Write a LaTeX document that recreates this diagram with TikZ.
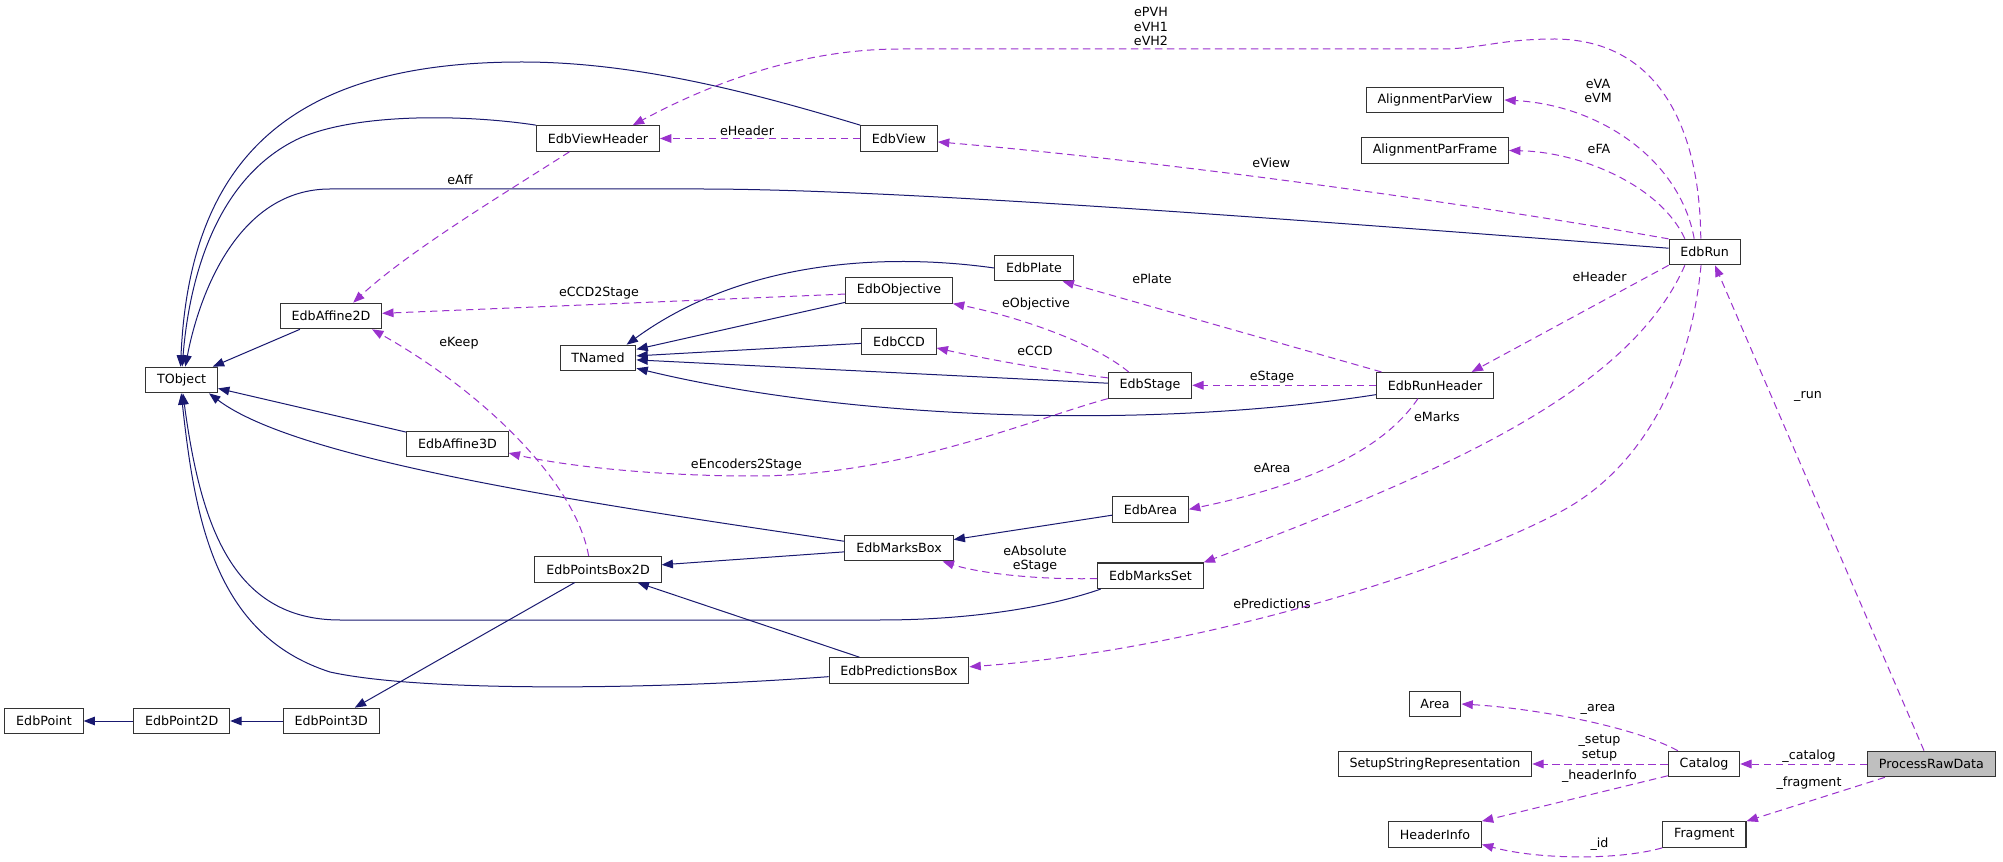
\documentclass[tikz,border=0pt]{standalone}
\usepackage{fontspec}
\setmainfont{DejaVu Sans}
\usetikzlibrary{arrows.meta}

\definecolor{inhblue}{RGB}{25,25,112}
\definecolor{usepurple}{RGB}{154,50,205}

\tikzset{>={Triangle[length=8.5pt, width=6.5pt]},
             cls/.style={draw=black!80, fill=white, line width=0.8pt, minimum height=19.2pt, inner xsep=8.5pt, inner ysep=0pt, font=\fontsize{9.5}{11.2}\selectfont},
             hl/.style={fill=black!25},
             inh/.style={->, draw=inhblue, line width=0.75pt},
             uses/.style={->, draw=usepurple, dash pattern=on 5.5pt off 3.5pt, line width=0.75pt},
             lbl/.style={font=\fontsize{9.5}{11.2}\selectfont, align=center, inner sep=0pt}}

\begin{document}
\begin{tikzpicture}[x=0.75pt, y=-0.75pt]
        \path[use as bounding box, fill=white] (0,0) rectangle (2003,862);

        \node[cls]     at (  44.0, 721.0) (EdbPoint)                  {EdbPoint};
        \node[cls]     at ( 181.7, 721.0) (EdbPoint2D)                {EdbPoint2D};
        \node[cls]     at ( 331.3, 721.0) (EdbPoint3D)                {EdbPoint3D};
        \node[cls]     at ( 181.7, 380.0) (TObject)                   {TObject};
        \node[cls]     at ( 331.0, 316.0) (EdbAffine2D)               {EdbAffine2D};
        \node[cls]     at ( 457.5, 444.0) (EdbAffine3D)               {EdbAffine3D};
        \node[cls]     at ( 598.0, 138.5) (EdbViewHeader)             {EdbViewHeader};
        \node[cls]     at ( 598.0, 358.0) (TNamed)                    {TNamed};
        \node[cls]     at ( 598.0, 569.3) (EdbPointsBox2D)            {EdbPointsBox2D};
        \node[cls]     at ( 899.0, 138.5) (EdbView)                   {EdbView};
        \node[cls]     at ( 899.0, 290.3) (EdbObjective)              {EdbObjective};
        \node[cls]     at ( 899.0, 341.3) (EdbCCD)                    {EdbCCD};
        \node[cls]     at ( 899.0, 548.0) (EdbMarksBox)               {EdbMarksBox};
        \node[cls]     at ( 899.0, 670.5) (EdbPredictionsBox)         {EdbPredictionsBox};
        \node[cls]     at (1034.0, 268.0) (EdbPlate)                  {EdbPlate};
        \node[cls]     at (1150.0, 385.3) (EdbStage)                  {EdbStage};
        \node[cls]     at (1150.4, 509.3) (EdbArea)                   {EdbArea};
        \node[cls]     at (1150.4, 575.8) (EdbMarksSet)               {EdbMarksSet};
        \node[cls]     at (1435.0, 100.0) (AlignmentParView)          {AlignmentParView};
        \node[cls]     at (1435.0, 150.5) (AlignmentParFrame)         {AlignmentParFrame};
        \node[cls]     at (1435.0, 385.3) (EdbRunHeader)              {EdbRunHeader};
        \node[cls]     at (1435.0, 704.0) (Area)                      {Area};
        \node[cls]     at (1435.0, 764.0) (SetupStringRepresentation) {SetupStringRepresentation};
        \node[cls]     at (1435.0, 834.5) (HeaderInfo)                {HeaderInfo};
        \node[cls]     at (1704.6, 252.0) (EdbRun)                    {EdbRun};
        \node[cls]     at (1704.0, 764.0) (Catalog)                   {Catalog};
        \node[cls]     at (1704.4, 834.5) (Fragment)                  {Fragment};
        \node[cls, hl] at (1931.4, 764.0) (ProcessRawData)            {ProcessRawData};

        \node[lbl] at ( 460.0, 180.0) (laff)     {eAff};
        \node[lbl] at ( 459.0, 343.0) (lkeep)    {eKeep};
        \node[lbl] at ( 599.0, 293.0) (lccdst)   {eCCD2Stage};
        \node[lbl] at ( 747.0, 131.0) (lvhdr)    {eHeader};
        \node[lbl] at ( 746.4, 465.0) (lenc)     {eEncoders2Stage};
        \node[lbl] at (1151.0,  26.5) (lpvh)     {ePVH\\eVH1\\eVH2};
        \node[lbl] at (1036.0, 304.0) (lobj)     {eObjective};
        \node[lbl] at (1035.0, 351.0) (lccd)     {eCCD};
        \node[lbl] at (1035.0, 559.0) (labs)     {eAbsolute\\eStage};
        \node[lbl] at (1152.0, 279.0) (lplate)   {ePlate};
        \node[lbl] at (1271.4, 163.0) (lview)    {eView};
        \node[lbl] at (1272.0, 377.0) (lstage)   {eStage};
        \node[lbl] at (1272.0, 468.0) (larea)    {eArea};
        \node[lbl] at (1272.0, 604.0) (lpred)    {ePredictions};
        \node[lbl] at (1437.0, 417.0) (lmarks)   {eMarks};
        \node[lbl] at (1598.0,  91.0) (lva)      {eVA\\eVM};
        \node[lbl] at (1599.0, 149.0) (lfa)      {eFA};
        \node[lbl] at (1599.5, 277.0) (lrhdr)    {eHeader};
        \node[lbl] at (1598.0, 709.0) (lcarea)   {\_area};
        \node[lbl] at (1599.5, 748.0) (lsetup)   {\_setup\\setup};
        \node[lbl] at (1599.5, 776.0) (lhinfo)   {\_headerInfo};
        \node[lbl] at (1599.5, 844.0) (lid)      {\_id};
        \node[lbl] at (1808.0, 396.0) (lrun)     {\_run};
        \node[lbl] at (1809.0, 756.0) (lcatalog) {\_catalog};
        \node[lbl] at (1809.0, 783.0) (lfrag)    {\_fragment};

        \draw[inh] (EdbPoint2D) -- (EdbPoint);
        \draw[inh] (EdbPoint3D) -- (EdbPoint2D);
        \draw[inh] (EdbPointsBox2D) -- (EdbPoint3D);
        \draw[inh] (EdbAffine2D) -- (TObject);
        \draw[inh] (EdbAffine3D) -- (TObject);
        \draw[inh] (EdbViewHeader.north west)
            .. controls (470,115) and (360,112) .. (300,138)
            .. controls (220,175) and (190,270) .. (TObject.88);
        \draw[inh] (EdbView.161)
            .. controls (760,95) and (640,62) .. (522,62)
            .. controls (300,62) and (190,150) .. (TObject.95);
        \draw[inh] (EdbRun.174)
            .. controls (1300,220) and (900,189) .. (700,189)
            -- (330,189)
            .. controls (240,189) and (200,290) .. (TObject.75);
        \draw[inh] (EdbMarksBox.173) .. controls (600,505) and (300,462) .. (TObject.-26);
        \draw[inh] (EdbMarksSet.195)
            .. controls (1040,610) and (960,620) .. (880,620)
            -- (340,620)
            .. controls (230,620) and (200,520) .. (TObject.-85);
        \draw[inh] (EdbPredictionsBox.185)
            .. controls (650,690) and (420,692) .. (330,672)
            .. controls (215,635) and (195,520) .. (TObject.-92);
        \draw[inh] (EdbPlate.west) .. controls (880,252) and (740,262) .. (TNamed.25);
        \draw[inh] (EdbObjective) -- (TNamed);
        \draw[inh] (EdbCCD) -- (TNamed);
        \draw[inh] (EdbStage) -- (TNamed);
        \draw[inh] (EdbRunHeader.189) .. controls (1150,430) and (850,420) .. (TNamed.-15);
        \draw[inh] (EdbArea) -- (EdbMarksBox);
        \draw[inh] (EdbMarksBox) -- (EdbPointsBox2D);
        \draw[inh] (EdbPredictionsBox) -- (EdbPointsBox2D);

        \draw[uses] (EdbRun.106)
            .. controls (1700,130) and (1660,40) .. (1555,39)
            .. controls (1500,39) and (1480,49) .. (1440,49)
            -- (900,49)
            .. controls (780,49) and (680,100) .. (EdbViewHeader.21);
        \draw[uses] (EdbView) -- (EdbViewHeader);
        \draw[uses] (EdbRun.160) .. controls (1450,200) and (1150,160) .. (EdbView.-5);
        \draw[uses] (EdbRun.128) .. controls (1680,160) and (1600,105) .. (AlignmentParView.east);
        \draw[uses] (EdbRun.146) .. controls (1660,185) and (1580,152) .. (AlignmentParFrame.east);
        \draw[uses] (EdbRun.south west) -- (EdbRunHeader.20);
        \draw[uses] (EdbRun.-146) .. controls (1630,390) and (1450,470) .. (EdbMarksSet.north east);
        \draw[uses] (EdbRun.-105)
            .. controls (1690,380) and (1640,470) .. (1560,512)
            .. controls (1450,570) and (1200,650) .. (EdbPredictionsBox.3);
        \draw[uses] (EdbRunHeader.166) -- (EdbPlate.-25);
        \draw[uses] (EdbRunHeader) -- (EdbStage);
        \draw[uses] (EdbRunHeader.218) .. controls (1390,440) and (1330,480) .. (EdbArea.east);
        \draw[uses] (EdbStage.148) .. controls (1090,340) and (1010,315) .. (EdbObjective.south east);
        \draw[uses] (EdbStage.170) .. controls (1060,372) and (990,360) .. (EdbCCD.-10);
        \draw[uses] (EdbObjective.184) -- (EdbAffine2D.3);
        \draw[uses] (EdbStage.south west)
            .. controls (1030,420) and (900,476) .. (753,476)
            .. controls (650,476) and (560,465) .. (EdbAffine3D.-10);
        \draw[uses] (EdbPointsBox2D.125) .. controls (575,480) and (480,390) .. (EdbAffine2D.-18);
        \draw[uses] (EdbViewHeader.205) .. controls (510,190) and (410,250) .. (EdbAffine2D.31);
        \draw[uses] (EdbMarksSet.183) .. controls (1030,580) and (975,572) .. (EdbMarksBox.-17);
        \draw[uses] (ProcessRawData.119) -- (EdbRun.-52);
        \draw[uses] (ProcessRawData) -- (Catalog);
        \draw[uses] (ProcessRawData.196) -- (Fragment.north east);
        \draw[uses] (Catalog.153) .. controls (1630,725) and (1530,708) .. (Area.east);
        \draw[uses] (Catalog) -- (SetupStringRepresentation);
        \draw[uses] (Catalog.198) -- (HeaderInfo.north east);
        \draw[uses] (Fragment.south west) .. controls (1620,860) and (1540,860) .. (HeaderInfo.-12);
\end{tikzpicture}
\end{document}
